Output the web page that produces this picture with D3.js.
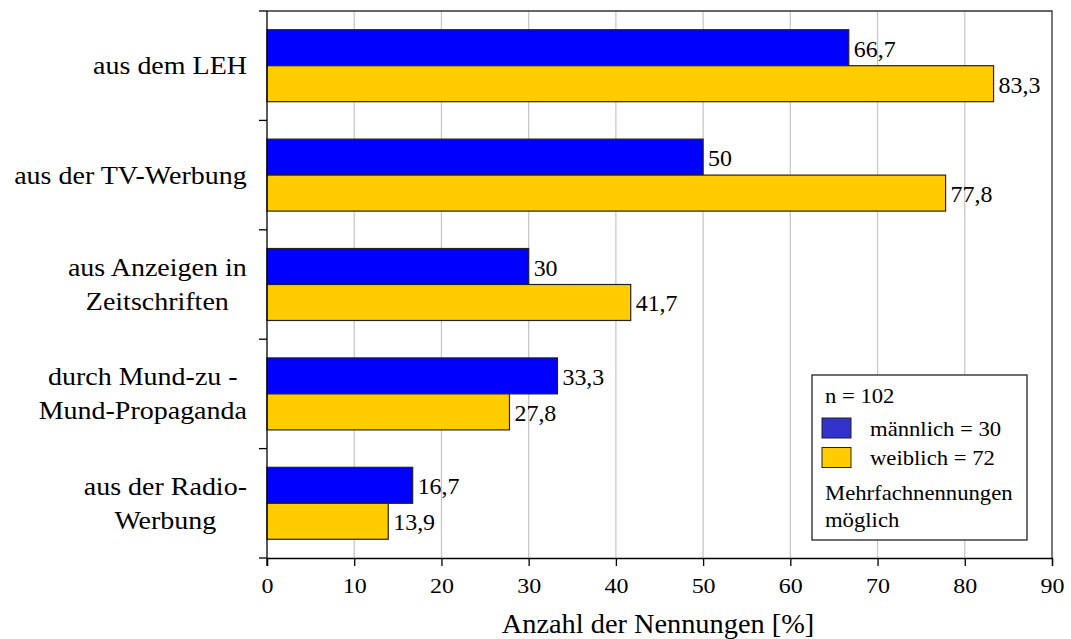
<!DOCTYPE html>
<html>
<head>
<meta charset="utf-8">
<script src="https://cdn.jsdelivr.net/npm/d3@7"></script>
<style>
  html, body { margin: 0; padding: 0; background: #fff; }
  svg { display: block; }
  svg text { font-family: "Liberation Serif", "Times New Roman", serif; }
</style>
</head>
<body>
<svg id="chart" width="1071" height="639"></svg>
<script>
// Sources of awareness, by gender (percent of mentions)
const categories = [
  ["aus dem LEH"],
  ["aus der TV-Werbung"],
  ["aus Anzeigen in", "Zeitschriften"],
  ["durch Mund-zu -", "Mund-Propaganda"],
  ["aus der Radio-", "Werbung"]
];
const maleValues   = [66.7, 50, 30, 33.3, 16.7];
const femaleValues = [83.3, 77.8, 41.7, 27.8, 13.9];
const seriesNames  = ["männlich = 30", "weiblich = 72"];
const xTicks = [0, 10, 20, 30, 40, 50, 60, 70, 80, 90];
const xTitle = "Anzahl der Nennungen [%]";
const legendTitle = "n = 102";
const legendNote = ["Mehrfachnennungen", "möglich"];

const colors = { bar: ["#0000ff", "#ffcc00"], swatch: ["#3333cc", "#ffcc00"] };

const svg = d3.select("#chart");
const plot = { left: 267, right: 1052, top: 11, bottom: 558 };

// widen glyphs horizontally around their anchor x
function stretch(sel, sx) {
  sel.each(function () {
    const ax = +this.getAttribute("x") || 0;
    d3.select(this).attr("transform", `translate(${ax},0) scale(${sx},1) translate(${-ax},0)`);
  });
}

const x = d3.scaleLinear().domain([0, 90]).range([plot.left, plot.right]);
const catIdx = categories.map((_, i) => i);
const y = d3.scaleBand().domain(catIdx).range([plot.top, plot.bottom]).padding(0);
const ySub = d3.scaleBand().domain([0, 1]).range([0, y.bandwidth()])
  .paddingInner(0).paddingOuter(0.52);

const fmt = v => String(v).replace(".", ",");

// gridlines
svg.append("g").selectAll("line")
  .data(xTicks.filter(t => t > 0 && t < 90))
  .join("line")
  .attr("x1", d => x(d)).attr("x2", d => x(d))
  .attr("y1", plot.top).attr("y2", plot.bottom)
  .attr("stroke", "#c8c8c8").attr("stroke-width", 1.3);

// frame (top and right)
svg.append("path")
  .attr("d", `M${plot.left},${plot.top}H${plot.right}V${plot.bottom}`)
  .attr("fill", "none").attr("stroke", "#333").attr("stroke-width", 1.3);

// bars
const rows = catIdx.map(i => ({ i, vals: [maleValues[i], femaleValues[i]] }));
const groups = svg.append("g").selectAll("g").data(rows).join("g")
  .attr("transform", d => `translate(0,${y(d.i)})`);

groups.selectAll("rect")
  .data(d => d.vals.map((v, s) => ({ v, s })))
  .join("rect")
  .attr("x", x(0))
  .attr("y", d => ySub(d.s))
  .attr("width", d => x(d.v) - x(0))
  .attr("height", ySub.bandwidth())
  .attr("fill", d => colors.bar[d.s])
  .attr("stroke", "#222").attr("stroke-width", 1.2);

const valueLabels = groups.selectAll("text")
  .data(d => d.vals.map((v, s) => ({ v, s })))
  .join("text")
  .attr("x", d => x(d.v) + 5)
  .attr("y", d => ySub(d.s) + ySub.bandwidth() / 2 + 9)
  .attr("font-size", 23).attr("fill", "#000")
  .text(d => fmt(d.v));
stretch(valueLabels, 1.04);

// x axis
const xAxis = d3.axisBottom(x).tickValues(xTicks).tickSize(8).tickPadding(11)
  .tickFormat(d3.format("d"));
const gx = svg.append("g").attr("transform", `translate(0,${plot.bottom})`).call(xAxis);
gx.attr("font-family", null);
gx.select(".domain").attr("stroke", "#000").attr("stroke-width", 1.3);
gx.selectAll(".tick line").attr("stroke", "#000").attr("stroke-width", 1.3);
gx.selectAll(".tick text").attr("font-size", 22).attr("fill", "#000")
  .attr("transform", "scale(1.09,1)");

// y axis: ticks at category boundaries
const yEdges = d3.range(categories.length + 1).map(k => plot.top + k * y.step());
svg.append("line").attr("x1", plot.left).attr("x2", plot.left)
  .attr("y1", plot.top).attr("y2", plot.bottom + 8)
  .attr("stroke", "#000").attr("stroke-width", 1.3);
svg.append("g").selectAll("line").data(yEdges).join("line")
  .attr("x1", plot.left - 8).attr("x2", plot.left)
  .attr("y1", d => d).attr("y2", d => d)
  .attr("stroke", "#000").attr("stroke-width", 1.3);

// category labels, centred lines in a right-aligned block
const lineH = 34;
const catSx = 1.12;
const labelG = svg.append("g").attr("font-size", 25).attr("fill", "#000");
categories.forEach((lines, i) => {
  const cy = y(i) + y.bandwidth() / 2;
  const t = labelG.append("text").attr("text-anchor", "middle");
  lines.forEach((ln, k) => {
    t.append("tspan").attr("x", 0)
      .attr("y", cy + 8.5 + (k - (lines.length - 1) / 2) * lineH)
      .text(ln);
  });
  const bb = t.node().getBBox();
  t.attr("transform", `translate(${247 - bb.width * catSx / 2},0) scale(${catSx},1)`);
});

// x axis title
const title = svg.append("text")
  .attr("x", 658).attr("y", 633)
  .attr("text-anchor", "middle").attr("font-size", 27).attr("fill", "#000")
  .text(xTitle);
stretch(title, 1.05);

// legend
const lg = svg.append("g").attr("font-size", 21).attr("fill", "#000");
lg.append("rect").attr("x", 812).attr("y", 375).attr("width", 215).attr("height", 165)
  .attr("fill", "#fff").attr("stroke", "#222").attr("stroke-width", 1.3);
lg.append("text").attr("x", 825).attr("y", 403).text(legendTitle);
seriesNames.forEach((name, s) => {
  const top = 418 + s * 29.5;
  lg.append("rect").attr("x", 822).attr("y", top).attr("width", 29).attr("height", 20)
    .attr("fill", colors.swatch[s]).attr("stroke", "#222").attr("stroke-width", 1);
  lg.append("text").attr("x", 870).attr("y", top + 18).text(name);
});
legendNote.forEach((ln, k) => {
  lg.append("text").attr("x", 825).attr("y", 500 + k * 27).text(ln);
});
stretch(lg.selectAll("text"), 1.08);
</script>
</body>
</html>
